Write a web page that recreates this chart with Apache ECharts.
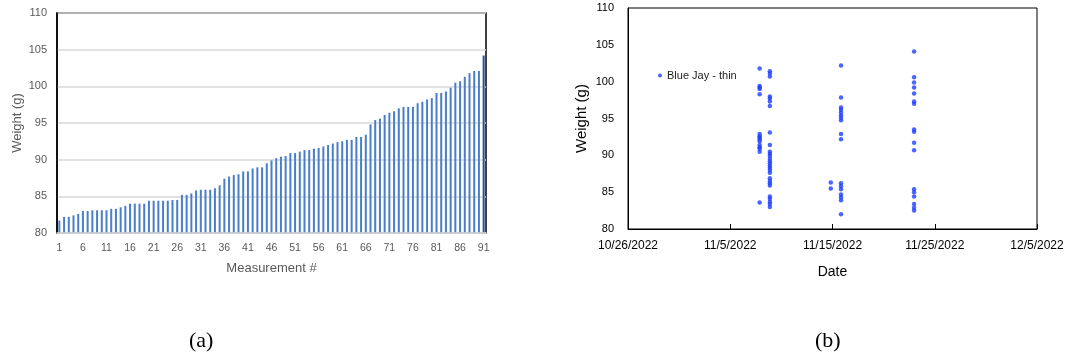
<!DOCTYPE html>
<html>
<head>
<meta charset="utf-8">
<script src="https://cdn.jsdelivr.net/npm/echarts@6/dist/echarts.min.js"></script>
<style>
  html, body { margin: 0; padding: 0; background: #fff; }
  #chart { width: 1068px; height: 360px; }
</style>
</head>
<body>
<div id="chart"></div>
<script>
// (a) sorted weights, one bar per measurement
const measurementWeights = [
  81.7, 82.2, 82.2, 82.4, 82.6, 83.0, 83.0, 83.1, 83.1, 83.1,
  83.1, 83.3, 83.3, 83.5, 83.7, 84.0, 84.0, 84.0, 84.0, 84.4,
  84.4, 84.4, 84.4, 84.4, 84.5, 84.5, 85.2, 85.2, 85.4, 85.8,
  85.9, 85.9, 85.9, 86.1, 86.5, 87.4, 87.7, 87.9, 88.0, 88.4,
  88.4, 88.8, 88.95, 88.95, 89.5, 89.9, 90.2, 90.4, 90.5, 90.9,
  90.9, 91.1, 91.3, 91.3, 91.5, 91.6, 91.8, 92.0, 92.2, 92.4,
  92.5, 92.7, 92.7, 93.1, 93.1, 93.4, 94.8, 95.4, 95.6, 96.1,
  96.4, 96.6, 97.0, 97.2, 97.2, 97.2, 97.7, 97.9, 98.2, 98.4,
  99.1, 99.1, 99.3, 99.8, 100.5, 100.7, 101.3, 101.8, 102.1, 102.1, 104.2
]
const measurementLabels = measurementWeights.map((_, i) => String(i + 1))
const weightTicks = [80, 85, 90, 95, 100, 105, 110]

// (b) weights by weighing time
const weighDates = [
  '2022-11-07T21:00Z',
  '2022-11-08T21:00Z',
  '2022-11-14T20:00Z',
  '2022-11-15T20:00Z',
  '2022-11-22T23:30Z',
]
const weighWeights = [
  [101.8, 99.4, 99.2, 99.0, 98.3, 92.9, 92.6, 92.4, 92.2, 91.9, 91.4, 91.1, 90.9, 90.5, 83.6],
  [101.4, 101.1, 100.7, 98.0, 97.7, 97.3, 96.7, 93.1, 91.4,
   90.5, 90.2, 89.9, 89.55, 89.2, 88.9, 88.6, 88.3, 88.0, 87.65,
   86.9, 86.5, 86.2, 85.9, 84.4, 84.1, 83.7, 83.4, 83.0],
  [86.3, 85.5],
  [102.2, 97.85, 96.5, 96.2, 95.8, 95.45, 95.1, 94.75, 92.9, 92.2,
   86.2, 85.8, 85.4, 84.7, 84.3, 83.9, 82.0],
  [104.1, 100.6, 99.9, 99.2, 98.4, 97.3, 97.0, 93.5, 93.2, 91.7, 90.7,
   85.4, 85.0, 84.4, 83.4, 82.9, 82.5],
]
const dateTicksStart = '2022-10-26T00:00Z'
const dateTicksEnd = '2022-12-05T00:00Z'

const DAY = 86400000
const startMs = Date.parse(dateTicksStart)
const spanDays = (Date.parse(dateTicksEnd) - startMs) / DAY
const toDays = (s) => (Date.parse(s) - startMs) / DAY
const dayLabel = (v) => {
  const d = new Date(startMs + v * DAY)
  return `${d.getUTCMonth() + 1}/${d.getUTCDate()}/${d.getUTCFullYear()}`
}

const scatterPoints = []
weighDates.forEach((d, i) => {
  weighWeights[i].forEach((w) => scatterPoints.push([toDays(d), w]))
})

const FONT = 'Liberation Sans'
const GRAY = '#595959'
const BAR_COLOR = '#4a7ec9'
const DOT_COLOR = '#1e40ff'

const chart = echarts.init(document.getElementById('chart'), null, { renderer: 'canvas' })

chart.setOption({
  animation: false,
  textStyle: { fontFamily: FONT },
  legend: {
    data: ['Blue Jay - thin'],
    left: 653,
    top: 65,
    icon: 'circle',
    itemWidth: 4,
    itemHeight: 4,
    textStyle: { fontSize: 11, color: '#222', fontFamily: FONT },
  },
  graphic: [
    { type: 'text', left: 189, top: 330, style: { text: '(a)', font: '22px "Liberation Serif"', fill: '#000' } },
    { type: 'text', left: 815, top: 330, style: { text: '(b)', font: '22px "Liberation Serif"', fill: '#000' } },
  ],
  grid: [
    { left: 57, top: 13, width: 429, height: 220, show: true, borderColor: '#000', borderWidth: 1.5, backgroundColor: 'transparent' },
    { left: 628, top: 8, width: 409, height: 221, show: true, borderColor: '#000', borderWidth: 1, backgroundColor: 'transparent' },
  ],
  xAxis: [
    {
      gridIndex: 0,
      type: 'category',
      data: measurementLabels,
      name: 'Measurement #',
      nameLocation: 'middle',
      nameGap: 29,
      nameTextStyle: { fontSize: 13, color: GRAY },
      axisLine: { lineStyle: { color: '#d9d9d9', width: 1.5 }, z: 10 },
      axisTick: { show: false },
      axisLabel: { interval: 4, fontSize: 10.5, color: GRAY, margin: 10 },
      z: 10,
    },
    {
      gridIndex: 1,
      type: 'value',
      min: 0,
      max: spanDays,
      interval: 10,
      name: 'Date',
      nameLocation: 'middle',
      nameGap: 36,
      nameTextStyle: { fontSize: 14, color: '#000' },
      axisLine: { lineStyle: { color: '#000', width: 1 } },
      axisTick: { inside: true, length: 5, lineStyle: { color: '#000' } },
      axisLabel: { formatter: dayLabel, fontSize: 12, color: '#000', margin: 11 },
      splitLine: { show: false },
    },
  ],
  yAxis: [
    {
      gridIndex: 0,
      type: 'value',
      min: weightTicks[0],
      max: weightTicks[weightTicks.length - 1],
      interval: 5,
      name: 'Weight (g)',
      nameLocation: 'middle',
      nameGap: 33,
      nameTextStyle: { fontSize: 13, color: GRAY },
      axisLine: { show: true, lineStyle: { color: '#000', width: 1.5 } },
      axisTick: { show: false },
      axisLabel: { fontSize: 11, color: GRAY, margin: 10 },
      splitLine: { lineStyle: { color: '#d9d9d9', width: 1.5 } },
    },
    {
      gridIndex: 1,
      type: 'value',
      min: weightTicks[0],
      max: weightTicks[weightTicks.length - 1],
      interval: 5,
      name: 'Weight (g)',
      nameLocation: 'middle',
      nameGap: 39,
      nameTextStyle: { fontSize: 15, color: '#000' },
      axisLine: { show: true, lineStyle: { color: '#000', width: 1 } },
      axisTick: { show: false },
      axisLabel: { fontSize: 11, color: '#000', margin: 14 },
      splitLine: { show: false },
    },
  ],
  series: [
    {
      name: 'Weight',
      type: 'bar',
      xAxisIndex: 0,
      yAxisIndex: 0,
      barWidth: 2,
      data: measurementWeights.map((v, i) =>
        i === measurementWeights.length - 1
          ? { value: v, itemStyle: { color: '#23509e' } }
          : v
      ),
      itemStyle: { color: BAR_COLOR },
    },
    {
      name: 'Blue Jay - thin',
      type: 'scatter',
      xAxisIndex: 1,
      yAxisIndex: 1,
      symbol: 'circle',
      symbolSize: 4.5,
      data: scatterPoints,
      itemStyle: { color: DOT_COLOR },
    },
  ],
})
</script>
</body>
</html>
